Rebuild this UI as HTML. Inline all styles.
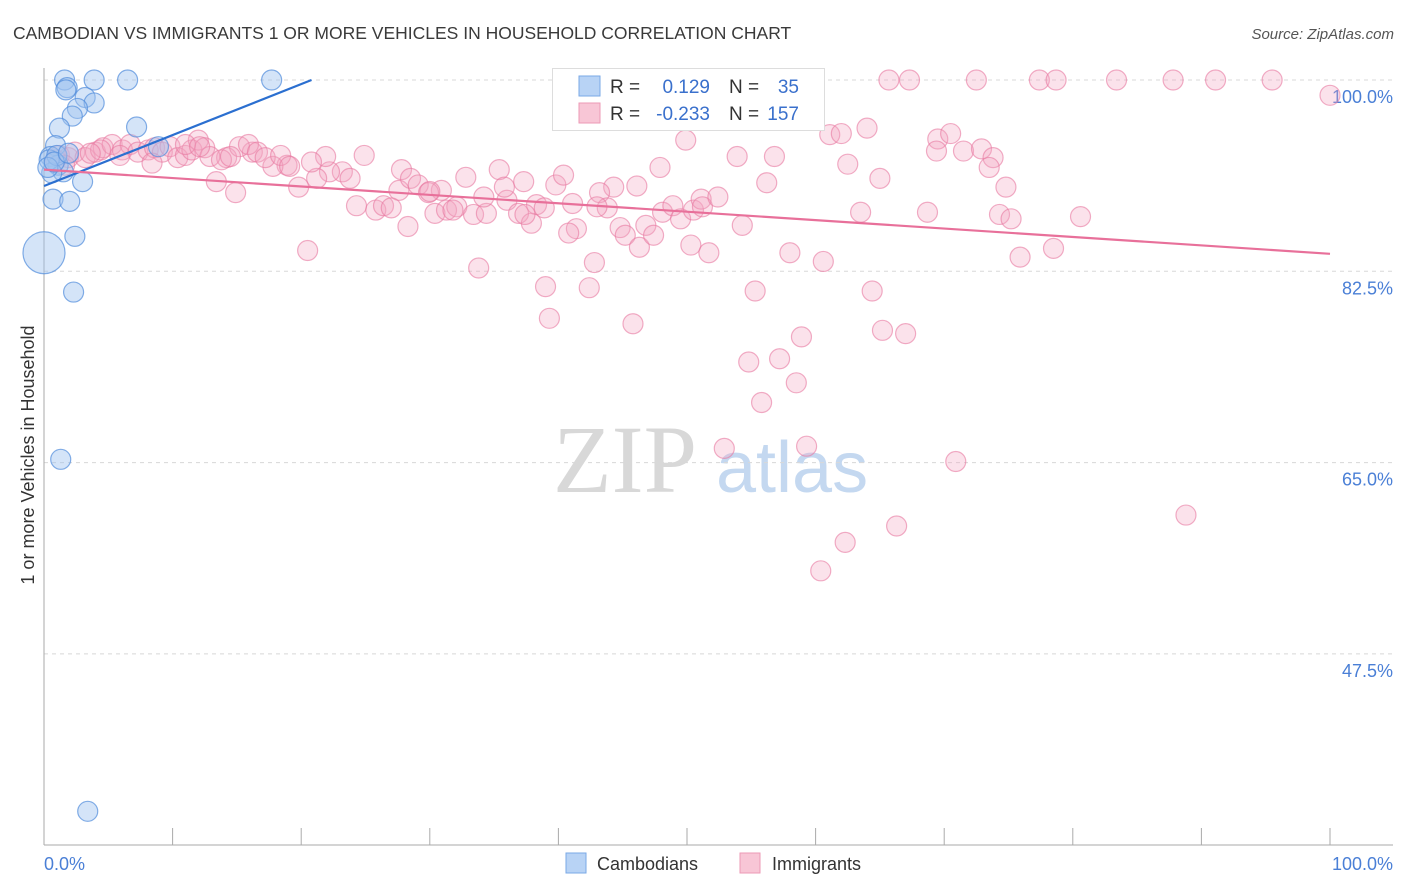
<!DOCTYPE html>
<html><head><meta charset="utf-8"><style>
body{margin:0;background:#fff;font-family:"Liberation Sans",sans-serif;}
#wrap{position:relative;width:1406px;height:892px;overflow:hidden;}
</style></head><body>
<div id="wrap">
<svg id="svg" width="1406" height="892" xmlns="http://www.w3.org/2000/svg">
<text x="13" y="39" font-size="17.5" fill="#3a3a3a">CAMBODIAN VS IMMIGRANTS 1 OR MORE VEHICLES IN HOUSEHOLD CORRELATION CHART</text>
<text x="1394" y="39" font-size="15" fill="#555" font-style="italic" text-anchor="end">Source: ZipAtlas.com</text>
<text transform="translate(34,455) rotate(-90)" font-size="18" fill="#333" text-anchor="middle">1 or more Vehicles in Household</text>
<g>
<text x="553" y="492" font-size="96" fill="#d8d8d8" font-family="Liberation Serif,serif">ZIP</text>
<text x="716" y="492" font-size="72" fill="#c4d8f0">atlas</text>
</g>
<g id="grid"></g><g id="axes"></g><g id="pts"></g><g id="lines"></g>
<g>
<rect x="552.5" y="68.5" width="272" height="62" fill="#fff" stroke="#ddd"/>
<rect x="579" y="76" width="21" height="20" fill="#b8d3f5" stroke="#7aa8e6"/>
<text x="610" y="93" font-size="19" fill="#333">R =</text>
<text x="710" y="93" font-size="19" fill="#3a70cc" text-anchor="end">0.129</text>
<text x="729" y="93" font-size="19" fill="#333">N =</text>
<text x="799" y="93" font-size="19" fill="#3a70cc" text-anchor="end">35</text>
<rect x="579" y="103" width="21" height="20" fill="#f8c6d6" stroke="#ec9ab6"/>
<text x="610" y="120" font-size="19" fill="#333">R =</text>
<text x="710" y="120" font-size="19" fill="#3a70cc" text-anchor="end">-0.233</text>
<text x="729" y="120" font-size="19" fill="#333">N =</text>
<text x="799" y="120" font-size="19" fill="#3a70cc" text-anchor="end">157</text>
</g>
<g>
<rect x="566" y="853" width="20" height="20" fill="#b8d3f5" stroke="#7aa8e6"/>
<text x="597" y="870" font-size="18" fill="#333">Cambodians</text>
<rect x="740" y="853" width="20" height="20" fill="#f8c6d6" stroke="#ec9ab6"/>
<text x="772" y="870" font-size="18" fill="#333">Immigrants</text>
</g>
</svg>
</div>
<script>
const yTicks=[100,82.5,65,47.5];
const yTickLabels=["100.0%","82.5%","65.0%","47.5%"];
const xTickVals=[0,10,20,30,40,50,60,70,80,90,100];
const xEndLabels=["0.0%","100.0%"];
const camX=[1.6,3.9,6.5,17.7,1.8,1.7,3.2,3.9,2.6,2.2,1.2,7.2,8.9,0.9,0.5,1.1,1.5,0.6,3.0,0.7,2.0,2.4,2.3,0,1.3,3.4,0.4,1.0,0.3,0.8,1.9];
const camY=[100,100,100,100,99.3,99.1,98.4,97.9,97.4,96.7,95.6,95.7,93.9,94.0,93.0,92.2,91.6,91.5,90.7,89.1,88.9,85.7,80.6,84.2,65.3,33.1,92.7,93.1,92.0,92.5,93.3];
const camR=[10,10,10,10,10,10,10,10,10,10,10,10,10,10,10,10,10,10,10,10,10,10,10,21,10,10,10,10,10,10,10];
const immX=[65.7,67.3,72.5,77.4,78.7,83.4,87.8,91.1,95.5,100,53.8,49.9,61.1,62.0,64.0,69.5,70.5,69.4,71.5,72.9,73.8,73.5,74.8,62.5,65.0,53.9,56.8,56.2,47.9,44.3,43.2,39.8,40.4,37.3,35.4,32.8,30.9,27.8,24.9,23.2,23.8,22.2,21.2,21.9,20.8,18.9,17.8,16.2,14.2,15.2,13.4,14.9,19.8,20.5,24.3,25.8,26.4,27.6,28.5,29.1,29.9,30.4,31.3,32.1,33.4,34.4,36.0,36.9,38.3,37.9,41.1,41.4,40.8,43.8,44.8,45.2,46.3,46.8,47.4,48.1,48.9,49.5,50.5,51.1,51.2,52.4,54.3,50.3,51.7,42.8,39.0,42.4,39.3,45.8,33.8,58.0,60.6,55.3,64.4,58.9,65.2,67.0,54.8,57.2,58.5,55.8,52.9,59.3,70.9,66.3,62.3,60.4,88.8,63.5,68.7,74.3,75.2,80.6,78.5,75.9,28.3,30.0,27.0,31.8,34.2,35.8,37.4,43.0,38.9,46.1,1.2,1.9,2.4,3.2,4.0,4.6,5.3,6.1,6.7,7.3,8.1,8.6,9.2,9.8,10.4,11.0,11.5,12.0,12.5,12.9,13.8,14.5,15.9,16.6,17.2,18.4,19.1,8.4,5.9,4.4,3.6,0.9,1.6,11.0,12.1];
const immY=[100,100,100,100,100,100,100,100,100,98.6,96.6,94.5,95.0,95.1,95.6,94.6,95.1,93.5,93.5,93.7,92.9,92.0,90.2,92.3,91.0,93.0,93.0,90.6,92.0,90.2,89.7,90.4,91.3,90.7,91.8,91.1,89.9,91.8,93.1,91.6,91.0,91.6,91.0,93.0,92.5,92.2,92.1,93.4,92.9,93.9,90.7,89.7,90.2,84.4,88.5,88.1,88.5,89.9,91.0,90.4,89.7,87.8,88.1,88.4,87.7,87.8,89.0,87.8,88.6,86.9,88.7,86.4,86.0,88.3,86.5,85.8,84.7,86.7,85.8,87.9,88.5,87.3,88.1,89.1,88.4,89.3,86.7,84.9,84.2,83.3,81.1,81.0,78.2,77.7,82.8,84.2,83.4,80.7,80.7,76.5,77.1,76.8,74.2,74.5,72.3,70.5,66.3,66.5,65.1,59.2,57.7,55.1,60.2,87.9,87.9,87.7,87.3,87.5,84.6,83.8,86.6,89.8,88.3,88.1,89.3,90.2,87.7,88.4,88.3,90.3,93.1,92.9,93.4,92.9,93.4,93.8,94.1,93.6,94.1,93.4,93.6,93.8,93.4,93.9,92.9,93.1,93.6,94.5,93.8,93.0,92.7,93.0,94.1,93.4,92.9,93.1,92.1,92.4,93.1,93.6,93.3,92.7,92.2,94.1,93.9];
const camTrendX=[0,20.8];
const camTrendY=[90.3,100];
const immTrendX=[0,100];
const immTrendY=[91.8,84.1];

const X0=44,X1=1330,Y100=80,PXPER=191.3/17.5;
const sx=v=>X0+(X1-X0)*v/100;
const sy=v=>Y100+(100-v)*PXPER;
const NS="http://www.w3.org/2000/svg";
function mk(tag,attrs,parent){const e=document.createElementNS(NS,tag);for(const k in attrs)e.setAttribute(k,attrs[k]);parent.appendChild(e);return e;}
const grid=document.getElementById('grid'),axes=document.getElementById('axes'),pts=document.getElementById('pts'),lines=document.getElementById('lines');
yTicks.forEach((t,i)=>{
  const l=mk('line',{x1:44,x2:1393,y1:sy(t),y2:sy(t),stroke:'#d8d8d8','stroke-dasharray':'4,4'},grid);
  
  
  const tx=mk('text',{x:1393,y:sy(t)+23,'font-size':18,fill:'#4a7fd6','text-anchor':'end'},axes);
  tx.textContent=yTickLabels[i];
  
  
});
const ya=mk('line',{x1:44,x2:44,y1:68,y2:845,stroke:'#aaa'},axes);


const xa=mk('line',{x1:44,x2:1393,y1:845,y2:845,stroke:'#aaa'},axes);


xTickVals.forEach(v=>{
  const t=mk('line',{x1:sx(v),x2:sx(v),y1:828,y2:845,stroke:'#aaa'},axes);
  
  
});
const xl0=mk('text',{x:44,y:870,'font-size':18,fill:'#4a7fd6'},axes);
xl0.textContent=xEndLabels[0];


const xl1=mk('text',{x:1393,y:870,'font-size':18,fill:'#4a7fd6','text-anchor':'end'},axes);
xl1.textContent=xEndLabels[1];


immX.forEach((v,i)=>{
  const c=mk('circle',{cx:sx(v),cy:sy(immY[i]),r:10,fill:'rgba(244,165,192,0.32)',stroke:'rgba(232,120,160,0.6)','stroke-width':1.2},pts);
  
  
});
camX.forEach((v,i)=>{
  const c=mk('circle',{cx:sx(v),cy:sy(camY[i]),r:camR[i],fill:'rgba(160,196,240,0.45)',stroke:'rgba(80,140,220,0.7)','stroke-width':1.2},pts);
  
  
});
const lc=mk('line',{x1:sx(camTrendX[0]),y1:sy(camTrendY[0]),x2:sx(camTrendX[1]),y2:sy(camTrendY[1]),stroke:'#2b6fd0','stroke-width':2.2},lines);


const li=mk('line',{x1:sx(immTrendX[0]),y1:sy(immTrendY[0]),x2:sx(immTrendX[1]),y2:sy(immTrendY[1]),stroke:'#e8709a','stroke-width':2.2},lines);


</script>
</body></html>
